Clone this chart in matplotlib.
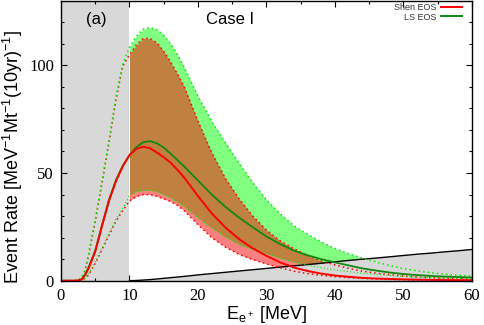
import numpy as np
import matplotlib
matplotlib.use("Agg")
import matplotlib.pyplot as plt
from matplotlib.lines import Line2D
from matplotlib.ticker import MultipleLocator

plt.rcParams['mathtext.default'] = 'regular'

# Positron energy grid [MeV]
energy = np.array([0, 1, 2, 2.5, 3, 3.5, 4, 5, 6, 7, 8, 9, 10, 11, 12, 13, 14, 15, 16, 17, 18,
                   20, 22, 24, 26, 28, 30, 32, 34, 36, 38, 40, 42, 44, 46, 48, 50, 52, 54, 56, 58, 60])

# Shen EOS (red): central, upper, lower
shen_mid = np.array([0, 0, 0, 0.1, 0.5, 2.5, 5.5, 13.5, 25.5, 37, 46, 53, 58.3, 61.2, 62.2, 61.5, 59.5, 57.3, 54.8, 51.5, 47.8,
                     39.3, 31.3, 24.7, 19.3, 15.0, 11.5, 8.5, 6.1, 4.5, 3.3, 2.4, 1.8, 1.3, 1.0, 0.8, 0.6, 0.5, 0.4, 0.3, 0.25, 0.2])
shen_up = np.array([0, 0, 0, 0.3, 1.2, 4.5, 11.5, 27.5, 45.5, 64, 83.5, 99.5, 105, 109.5, 112.5, 112.5, 110.5, 106.5, 101.5, 96, 90,
                    74, 59.5, 47.5, 38, 30, 23.5, 18.5, 14.8, 11.7, 9.2, 7.3, 5.7, 4.4, 3.5, 2.8, 2.2, 1.7, 1.4, 1.1, 0.9, 0.7])
shen_low = np.array([0, 0, 0, 0, 0.3, 1, 2.5, 8, 14.5, 21, 27.5, 32.5, 37, 39.2, 40, 40, 39.2, 38, 36.8, 35, 32.5,
                     26, 20, 15.6, 12.2, 9.8, 7.8, 6.0, 4.4, 3.3, 2.5, 1.9, 1.4, 1.1, 0.8, 0.6, 0.45, 0.35, 0.3, 0.2, 0.15, 0.1])

# LS EOS (green): central, upper, lower
ls_mid = np.array([0, 0, 0, 0.1, 0.6, 2.8, 6, 14, 26, 37.5, 46.5, 53.3, 58.3, 62, 64.3, 64.8, 63.8, 61.8, 59, 56, 53,
                   46.5, 40, 34.3, 29.3, 24.8, 20.5, 17, 14, 11.8, 10, 8.5, 7.1, 5.7, 4.7, 3.8, 3.1, 2.6, 2.2, 1.9, 1.7, 1.5])
ls_up = np.array([0, 0, 0, 0.3, 1.5, 5, 12, 28.5, 46.5, 65, 85, 100.5, 108.5, 113.5, 116.8, 117.5, 116.5, 114, 110, 105, 99,
                  85.5, 74, 64, 54.5, 45.5, 37.5, 31, 25.5, 21.5, 18, 15, 12.5, 10.5, 8.7, 7.0, 5.6, 4.6, 3.7, 3.0, 2.5, 2.1])
ls_low = np.array([0, 0, 0, 0, 0.4, 1.3, 3, 8.8, 15.3, 22, 28.5, 33.5, 39.5, 41.5, 42, 42, 41.3, 40, 38.5, 36.5, 34.3,
                   29.3, 24.5, 20.2, 16.9, 14.4, 12.5, 10.5, 8.7, 7.2, 6.0, 5.0, 4.2, 3.5, 2.9, 2.4, 2.0, 1.7, 1.4, 1.2, 1.0, 0.9])

# Background (black line, grey below)
background = np.array([np.nan] * 12 + [0, 0.1, 0.3, 0.5, 0.8, 1.1, 1.4, 1.7, 2.0,
                       2.7, 3.3, 3.9, 4.5, 5.1, 5.7, 6.3, 6.9, 7.5, 8.1, 8.8, 9.4, 10.0, 10.5, 11.1, 11.7, 12.3, 12.8, 13.4, 13.9, 14.5])

threshold = 10  # grey excluded region below this energy

RED = '#ff0000'
GREEN_DOT = '#00ee00'
GREEN = '#118811'
PINK = '#ff8080'
LGREEN = '#80ff80'
BROWN = '#c08040'
GREY = '#d8d8d8'

fig = plt.figure(figsize=(4.85, 3.25), dpi=100)
ax = fig.add_axes([61 / 485, 1 - 280.7 / 325, 411 / 485, 280 / 325])

ax.axvspan(0, threshold, color=GREY, lw=0, zorder=1)

m = energy >= threshold
xe = energy[m]
ax.fill_between(xe, shen_low[m], shen_up[m], color=PINK, lw=0, zorder=2)
ax.fill_between(xe, ls_low[m], ls_up[m], color=LGREEN, lw=0, zorder=2)
lo = np.maximum(shen_low[m], ls_low[m])
hi = np.minimum(shen_up[m], ls_up[m])
ax.fill_between(xe, lo, hi, where=hi > lo, color=BROWN, lw=0, zorder=2.5)

ax.fill_between(xe, 0, background[m], color=GREY, lw=0, zorder=3)
ax.plot(energy, background, color='black', lw=1.0, zorder=4)

dot = (0, (1, 2))
for y, c, w in [(shen_up, RED, 1.1), (ls_up, GREEN_DOT, 1.1), (shen_low, RED, 1.1), (ls_low, GREEN_DOT, 0.8)]:
    ax.plot(energy, y, color=c, lw=w, ls=dot, zorder=5)

ax.plot(energy, ls_mid, color=GREEN, lw=1.3, zorder=6)
ax.plot(energy, shen_mid, color=RED, lw=1.4, zorder=6.5)

ax.set_xlim(0, 60)
ax.set_ylim(0, 130)
ax.xaxis.set_major_locator(MultipleLocator(10))
ax.xaxis.set_minor_locator(MultipleLocator(5))
ax.yaxis.set_major_locator(MultipleLocator(50))
ax.yaxis.set_minor_locator(MultipleLocator(10))
ax.tick_params(which='both', direction='in', top=True, right=True, width=0.8)
ax.tick_params(which='major', length=4, pad=5)
ax.tick_params(which='minor', length=2.5)
for lab in ax.get_xticklabels() + ax.get_yticklabels():
    lab.set_family('Liberation Serif')
    lab.set_fontsize(12)
for s in ax.spines.values():
    s.set_linewidth(1.0)
    s.set_zorder(10)

ax.set_xlabel('E$_{e^+}$ [MeV]', family='Liberation Sans', fontsize=13)
ax.set_ylabel('Event Rate [MeV$^{-1}$Mt$^{-1}$(10yr)$^{-1}$]', family='Liberation Sans', fontsize=13)
ax.xaxis.set_label_coords(0.5, -0.083)
ax.yaxis.set_label_coords(-0.087, 0.44)

ax.text(5.1, 121.5, '(a)', family='Liberation Sans', fontsize=12, ha='center', va='center', zorder=11)
ax.text(24.7, 121.5, 'Case I', family='Liberation Sans', fontsize=12, ha='center', va='center', zorder=11)

handles = [Line2D([], [], color=RED, lw=1.4), Line2D([], [], color=GREEN, lw=1.4)]
leg = ax.legend(handles, ['Shen EOS', 'LS EOS'], loc='upper right', markerfirst=False, frameon=False,
                prop={'family': 'Liberation Sans', 'size': 6.5}, handlelength=2.3, handletextpad=0.5,
                labelspacing=0.0, borderaxespad=0, borderpad=0, bbox_to_anchor=(0.976, 0.99))
for t in leg.get_texts():
    t.set_color('#333333')
leg.set_zorder(12)

fig.savefig('out.png', dpi=100)
